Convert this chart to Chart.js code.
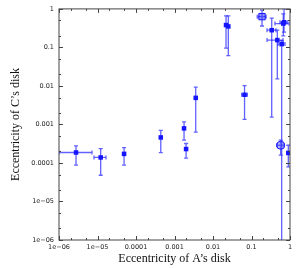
<!DOCTYPE html>
<html>
<head>
<meta charset="utf-8">
<script src="https://cdn.jsdelivr.net/npm/chart.js@4.4.0/dist/chart.umd.min.js"></script>
<style>
  html, body { margin: 0; padding: 0; background: #fff; }
  #chart { display: block; }
</style>
</head>
<body>
<canvas id="chart" width="299" height="268"></canvas>
<script>
// Ticks
const xTickValues = [1e-6, 1e-5, 1e-4, 1e-3, 1e-2, 1e-1, 1];
const xTickLabels = ['1e−06', '1e−05', '0.0001', '0.001', '0.01', '0.1', '1'];
const yTickValues = [1e-6, 1e-5, 1e-4, 1e-3, 1e-2, 1e-1, 1];
const yTickLabels = ['1e−06', '1e−05', '0.0001', '0.001', '0.01', '0.1', '1'];
const minorSteps = [2, 5];

// Main series (small filled squares)
const eccA     = [2.77e-6, 1.21e-5, 4.9e-5, 4.4e-4, 1.77e-3, 2.0e-3, 3.56e-3, 0.0218, 0.025, 0.066, 0.335, 0.468, 0.67, 0.70, 0.608, 0.904];
const eccC     = [1.87e-4, 1.39e-4, 1.72e-4, 4.6e-4, 7.9e-4, 2.3e-4, 4.9e-3, 0.38, 0.35, 5.9e-3, 0.28, 0.155, 0.417, 0.45, 0.122, 1.82e-4];
const eccALow  = [1e-6, 8.1e-6, 4.6e-5, 4.4e-4, 1.77e-3, 2.0e-3, 3.56e-3, 0.0218, 0.025, 0.0556, 0.253, 0.253, 0.407, 0.55, 0.488, 0.904];
const eccAHigh = [7.2e-6, 1.66e-5, 5.2e-5, 4.4e-4, 1.77e-3, 2.0e-3, 3.56e-3, 0.0218, 0.025, 0.078, 0.432, 0.658, 0.94, 0.85, 0.74, 0.904];
const eccCLow  = [8.8e-5, 4.8e-5, 8.8e-5, 1.86e-4, 3.9e-4, 1.33e-4, 6.3e-4, 0.096, 0.061, 1.35e-3, 1.55e-3, 0.0152, 0.2, 0.25, 1e-7, 7.9e-5];
const eccCHigh = [2.77e-4, 2.37e-4, 2.5e-4, 7.0e-4, 1.17e-3, 3.2e-4, 9.3e-3, 0.66, 0.66, 0.0102, 0.575, 0.28, 0.74, 1.0, 0.15, 2.88e-4];

// Square-marked point
const sqA = [0.1875], sqC = [0.63];
const sqALow = [0.141], sqAHigh = [0.24], sqCLow = [0.36], sqCHigh = [0.925];

// Circle-marked point
const circA = [0.573], circC = [2.88e-4];
const circALow = [0.45], circAHigh = [0.70], circCLow = [1.6e-4], circCHigh = [3.9e-4];

const blue = 'rgb(20, 20, 255)';
const barBlue = 'rgba(30, 30, 255, 0.7)';

const toPoints = (xs, ys) => xs.map((v, i) => ({ x: v, y: ys[i] }));

// Error bars drawn through the scales
const errorBars = {
    id: 'errorBars',
    beforeDatasetsDraw(chart) {
        const { ctx, chartArea, scales: { x, y } } = chart;
        ctx.save();
        ctx.beginPath();
        ctx.rect(chartArea.left, chartArea.top, chartArea.width, chartArea.height);
        ctx.clip();
        ctx.strokeStyle = barBlue;
        ctx.lineWidth = 1.3;
        const cap = 2;
        chart.data.datasets.forEach(ds => {
            const e = ds.errors;
            ds.data.forEach((p, i) => {
                const px = x.getPixelForValue(p.x);
                const py = y.getPixelForValue(p.y);
                const xl = x.getPixelForValue(e.xLow[i]);
                const xh = x.getPixelForValue(e.xHigh[i]);
                const yl = y.getPixelForValue(e.yLow[i]);
                const yh = y.getPixelForValue(e.yHigh[i]);
                ctx.beginPath();
                ctx.moveTo(px, yl); ctx.lineTo(px, yh);
                ctx.moveTo(px - cap, yl); ctx.lineTo(px + cap, yl);
                ctx.moveTo(px - cap, yh); ctx.lineTo(px + cap, yh);
                if (xh - xl > 1) {
                    ctx.moveTo(xl, py); ctx.lineTo(xh, py);
                    ctx.moveTo(xl, py - cap); ctx.lineTo(xl, py + cap);
                    ctx.moveTo(xh, py - cap); ctx.lineTo(xh, py + cap);
                }
                ctx.stroke();
            });
        });
        ctx.restore();
    }
};

// Box frame with inward ticks on all four sides
const frame = {
    id: 'frame',
    afterDraw(chart) {
        const { ctx, chartArea: a, scales: { x, y } } = chart;
        ctx.save();
        ctx.strokeStyle = '#444';
        ctx.lineWidth = 1;
        ctx.strokeRect(a.left, a.top, a.right - a.left, a.bottom - a.top);
        ctx.beginPath();
        const tick = (v, len, horiz) => {
            if (horiz) {
                const p = Math.round(x.getPixelForValue(v)) + 0.5;
                ctx.moveTo(p, a.bottom); ctx.lineTo(p, a.bottom - len);
                ctx.moveTo(p, a.top); ctx.lineTo(p, a.top + len);
            } else {
                const p = Math.round(y.getPixelForValue(v)) + 0.5;
                ctx.moveTo(a.left, p); ctx.lineTo(a.left + len, p);
                ctx.moveTo(a.right, p); ctx.lineTo(a.right - len, p);
            }
        };
        xTickValues.forEach((v, i) => {
            tick(v, 4, true);
            if (i < xTickValues.length - 1) minorSteps.forEach(m => tick(v * m, 2, true));
        });
        yTickValues.forEach((v, i) => {
            tick(v, 4, false);
            if (i < yTickValues.length - 1) minorSteps.forEach(m => tick(v * m, 2, false));
        });
        ctx.stroke();
        ctx.restore();
    }
};

const tickFont = { family: "'DejaVu Sans', sans-serif", size: 6.5 };
const titleFont = { family: "'Liberation Serif', serif", size: 12 };

new Chart(document.getElementById('chart'), {
    type: 'scatter',
    data: {
        datasets: [
            {
                data: toPoints(eccA, eccC),
                errors: { xLow: eccALow, xHigh: eccAHigh, yLow: eccCLow, yHigh: eccCHigh },
                pointStyle: 'rect',
                pointRadius: 3.2,
                backgroundColor: blue,
                borderColor: blue,
                borderWidth: 0
            },
            {
                data: toPoints(sqA, sqC),
                errors: { xLow: sqALow, xHigh: sqAHigh, yLow: sqCLow, yHigh: sqCHigh },
                pointStyle: 'rect',
                pointRadius: 4.5,
                backgroundColor: 'rgba(60, 60, 255, 0.55)',
                borderColor: blue,
                borderWidth: 1
            },
            {
                data: toPoints(circA, circC),
                errors: { xLow: circALow, xHigh: circAHigh, yLow: circCLow, yHigh: circCHigh },
                pointStyle: 'circle',
                pointRadius: 4,
                backgroundColor: 'rgba(80, 80, 255, 0.45)',
                borderColor: blue,
                borderWidth: 1
            }
        ]
    },
    options: {
        responsive: false,
        animation: false,
        layout: { padding: { top: 8, right: 9, left: 0, bottom: 0 } },
        plugins: { legend: { display: false }, tooltip: { enabled: false } },
        scales: {
            x: {
                type: 'logarithmic',
                min: 1e-6,
                max: 1,
                afterFit: s => { s.height = 28; },
                afterBuildTicks: s => { s.ticks = xTickValues.map(v => ({ value: v })); },
                grid: { display: false, drawTicks: false },
                border: { display: false },
                ticks: {
                    autoSkip: false,
                    maxRotation: 0,
                    padding: 3,
                    color: '#222',
                    font: tickFont,
                    callback: (v, i) => xTickLabels[i]
                },
                title: {
                    display: true,
                    text: 'Eccentricity of A’s disk',
                    color: '#111',
                    font: titleFont,
                    padding: { top: 0, bottom: 2 }
                }
            },
            y: {
                type: 'logarithmic',
                min: 1e-6,
                max: 1,
                afterFit: s => { s.width = 59; },
                afterBuildTicks: s => { s.ticks = yTickValues.map(v => ({ value: v })); },
                grid: { display: false, drawTicks: false },
                border: { display: false },
                ticks: {
                    autoSkip: false,
                    padding: 5,
                    color: '#222',
                    font: tickFont,
                    callback: (v, i) => yTickLabels[i]
                },
                title: {
                    display: true,
                    text: 'Eccentricity of C’s disk',
                    color: '#111',
                    font: titleFont,
                    padding: { top: 9, bottom: 0 }
                }
            }
        }
    },
    plugins: [errorBars, frame]
});
</script>
</body>
</html>
